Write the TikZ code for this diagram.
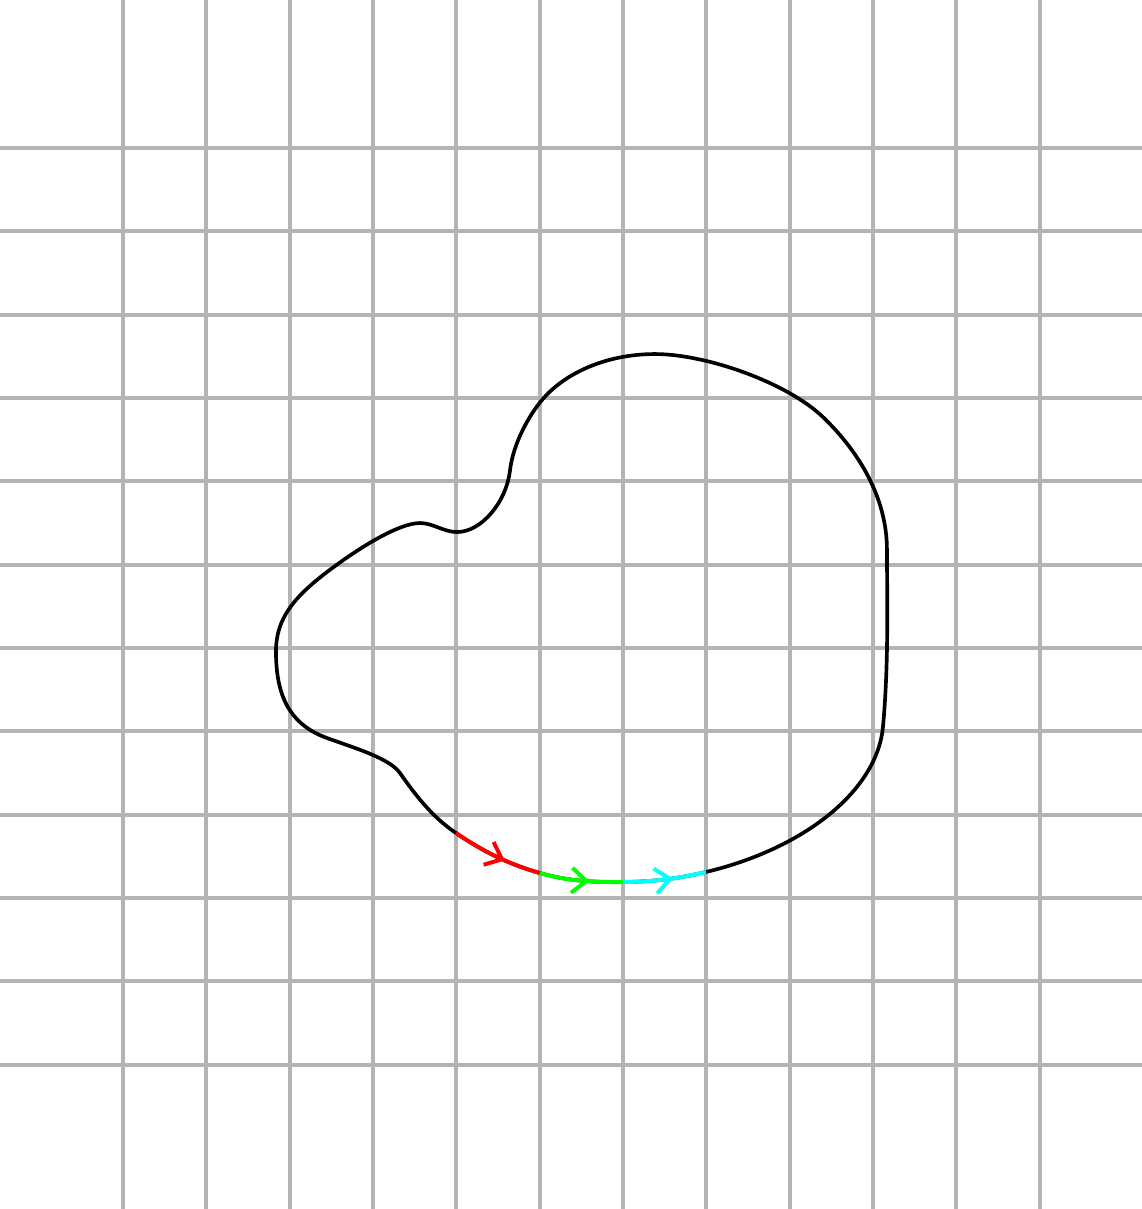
\documentclass[tikz,border=0pt]{standalone}
\usetikzlibrary{arrows.meta,decorations.markings}
\definecolor{gridgray}{RGB}{180,180,180}
\definecolor{cyanc}{RGB}{0,255,255}
\definecolor{greenc}{RGB}{0,255,0}
\definecolor{redc}{RGB}{255,0,0}
\begin{document}
\begin{tikzpicture}[
  gridline/.style={draw=gridgray,line width=1.4pt},
  blobline/.style={draw=black,line width=1.25pt},
  seg/.style={line width=1.35pt,draw=#1,postaction={decorate},
    decoration={markings,mark=at position 0.6 with {\arrow[#1]{Straight Barb[length=5pt,width=8.5pt,line width=1.35pt]}}}}
]
\useasboundingbox (-1.476,-1.732) rectangle (12.228,12.777);
\clip (-1.476,-1.732) rectangle (12.228,12.777);
\foreach \i in {0,...,11} {
  \draw[gridline] (\i,-1.8) -- (\i,12.9);
  \draw[gridline] (-1.6,\i) -- (12.3,\i);
}
\coordinate (a) at (3.996,2.780);
\coordinate (b) at (5.004,2.300);
\coordinate (c) at (6.000,2.192);
\coordinate (d) at (6.996,2.312);
\coordinate (pB) at (9.120,4.052);
\coordinate (pC) at (9.168,6.176);
\coordinate (pM) at (8.400,7.772);
\coordinate (pT) at (6.384,8.528);
\coordinate (pS) at (5.028,7.976);
\coordinate (pD) at (4.644,7.128);
\coordinate (pE) at (4.008,6.392);
\coordinate (pF) at (3.564,6.500);
\coordinate (pG) at (2.448,5.912);
\coordinate (pH) at (1.836,4.964);
\coordinate (pI) at (2.448,3.920);
\coordinate (pJ) at (3.324,3.500);
\draw[blobline]
 (a) .. controls (4.35,2.54) and (4.65,2.4) .. (b)
     .. controls (5.35,2.2) and (5.65,2.19) .. (c)
     .. controls (6.35,2.195) and (6.65,2.229) .. (d)
     .. controls (8.2,2.601) and (9.05,3.3) .. (pB)
     .. controls (9.19,4.8) and (9.17,5.6) .. (pC)
     .. controls (9.17,6.8) and (8.83,7.36) .. (pM)
     .. controls (7.968,8.186) and (7.0,8.528) .. (pT)
     .. controls (5.8,8.528) and (5.3,8.3) .. (pS)
     .. controls (4.87,7.79) and (4.68,7.45) .. (pD)
     .. controls (4.6,6.75) and (4.3,6.392) .. (pE)
     .. controls (3.85,6.392) and (3.72,6.5) .. (pF)
     .. controls (3.3,6.5) and (2.8,6.18) .. (pG)
     .. controls (2.05,5.609) and (1.836,5.35) .. (pH)
     .. controls (1.836,4.5) and (1.95,4.1) .. (pI)
     .. controls (2.8,3.793) and (3.2,3.675) .. (pJ)
     .. controls (3.5,3.25) and (3.7,2.98) .. (a) -- cycle;
\draw[seg=redc] (a) .. controls (4.35,2.54) and (4.65,2.4) .. (b);
\draw[seg=greenc] (b) .. controls (5.35,2.2) and (5.65,2.19) .. (c);
\draw[seg=cyanc] (c) .. controls (6.35,2.195) and (6.65,2.229) .. (d);
\end{tikzpicture}
\end{document}
